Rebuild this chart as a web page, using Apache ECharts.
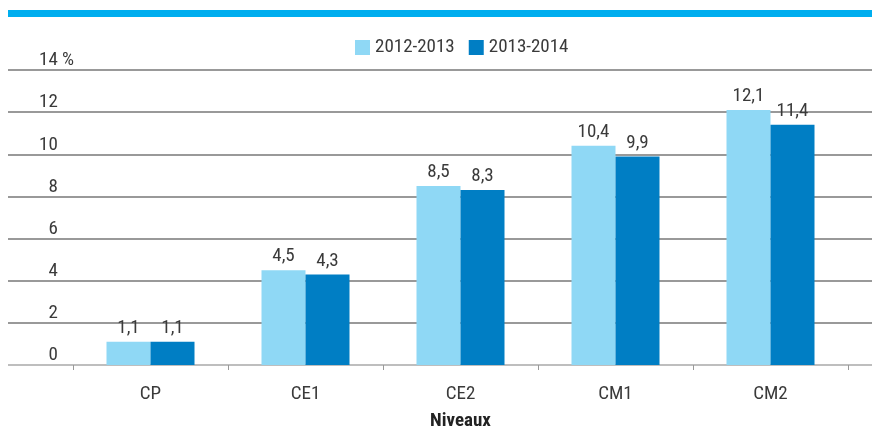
<!DOCTYPE html>
<html>
<head>
<meta charset="utf-8">
<script src="https://cdn.jsdelivr.net/npm/echarts@6/dist/echarts.min.js"></script>
<style>
  html, body { margin: 0; padding: 0; background: #fff; }
  #chart { width: 874px; height: 432px; }
</style>
</head>
<body>
<div id="chart"></div>
<script>
var niveaux = ['CP', 'CE1', 'CE2', 'CM1', 'CM2'];
var serie2012 = [1.1, 4.5, 8.5, 10.4, 12.1];
var serie2013 = [1.1, 4.3, 8.3, 9.9, 11.4];
var seriesNames = ['2012-2013', '2013-2014'];

var FONT = '"Roboto Condensed", sans-serif';
var TXT = '#3a3a3a';

var chart = echarts.init(document.getElementById('chart'));

function valLabel(p) {
    return String(p.value).replace('.', ',');
}

var option = {
    animation: false,
    textStyle: { fontFamily: FONT },
    graphic: [{
        type: 'rect',
        left: 8, top: 10,
        shape: { width: 864, height: 7 },
        style: { fill: '#00aeef' }
    }],
    legend: {
        data: seriesNames,
        left: 355,
        top: 38,
        padding: 0,
        icon: 'rect',
        itemWidth: 15,
        itemHeight: 15,
        itemGap: 14,
        textStyle: { fontFamily: FONT, fontSize: 19, color: TXT }
    },
    grid: [
        { left: 8, right: 2, top: 70, bottom: 67, outerBoundsMode: 'none' },
        { left: 73, right: 26, top: 70, bottom: 67, outerBoundsMode: 'none' }
    ],
    xAxis: [
        { type: 'value', gridIndex: 0, show: false },
        {
            type: 'category',
            gridIndex: 1,
            data: niveaux,
            axisLine: { show: false },
            axisTick: { show: true, length: 5, lineStyle: { color: '#999' } },
            axisLabel: { fontFamily: FONT, fontSize: 19, color: TXT, margin: 20 },
            name: 'Niveaux',
            nameLocation: 'middle',
            nameGap: 47,
            nameTextStyle: { fontFamily: FONT, fontSize: 19, fontWeight: 'bold', color: '#222' }
        }
    ],
    yAxis: [
        {
            type: 'value',
            gridIndex: 0,
            min: 0, max: 14, interval: 2,
            axisLine: { show: false },
            axisTick: { show: false },
            splitLine: {
                lineStyle: {
                    color: ['#a8a8a8', '#777', '#777', '#777', '#777', '#777', '#777', '#777'],
                    width: 1.5
                }
            },
            axisLabel: {
                inside: true,
                margin: 31,
                align: 'left',
                verticalAlign: 'bottom',
                fontFamily: FONT,
                fontSize: 19,
                color: TXT,
                formatter: function (v) {
                    if (v === 14) return '{n|14 %}';
                    if (v < 10) return '{g|0}{n|' + v + '}';
                    return '{n|' + v + '}';
                },
                rich: {
                    n: { fontFamily: FONT, fontSize: 19, color: TXT },
                    g: { fontFamily: FONT, fontSize: 19, color: 'rgba(0,0,0,0)' }
                }
            }
        },
        { type: 'value', gridIndex: 1, min: 0, max: 14, interval: 2, show: false }
    ],
    series: [
        {
            name: seriesNames[0],
            type: 'bar',
            xAxisIndex: 1, yAxisIndex: 1,
            data: serie2012,
            barWidth: 44,
            barGap: '0%',
            itemStyle: { color: '#8fd8f5' },
            label: { show: true, position: 'top', distance: 4, fontFamily: FONT, fontSize: 19, color: TXT, formatter: valLabel }
        },
        {
            name: seriesNames[1],
            type: 'bar',
            xAxisIndex: 1, yAxisIndex: 1,
            data: serie2013,
            barWidth: 44,
            barGap: '0%',
            itemStyle: { color: '#007ec4' },
            label: { show: true, position: 'top', distance: 4, fontFamily: FONT, fontSize: 19, color: TXT, formatter: valLabel }
        }
    ]
};

chart.setOption(option);
</script>
</body>
</html>
